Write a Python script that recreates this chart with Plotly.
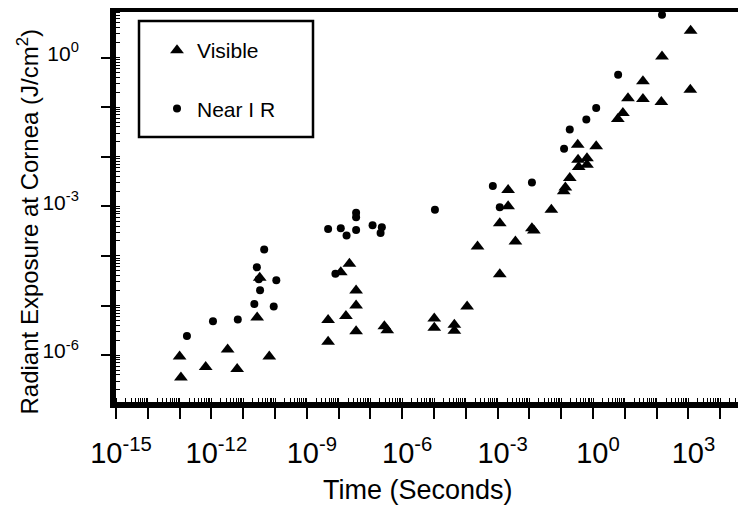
import plotly.graph_objects as go

# ---- data ----
# Visible: exposure time (s) and radiant exposure at cornea (J/cm^2)
visible_time = [1.0e-13, 1.10e-13, 6.61e-13, 3.24e-12, 6.46e-12, 2.75e-11, 6.61e-11, 3.31e-11,
                4.68e-9, 4.68e-9, 1.17e-8, 2.19e-8, 1.70e-8, 3.55e-8, 3.55e-8, 3.55e-8,
                2.75e-7, 3.39e-7, 1.02e-5, 1.02e-5, 4.37e-5, 4.37e-5, 1.10e-4, 2.34e-4,
                1.17e-3, 1.17e-3, 2.14e-3, 2.14e-3, 3.63e-3, 1.20e-2, 1.38e-2, 4.90e-2,
                0.120, 0.135, 0.186, 0.339, 0.355, 0.646, 0.646, 0.331, 1.26, 6.03, 8.71,
                12.6, 37.2, 37.2, 141, 148, 1175, 1148]
visible_exposure = [9.33e-7, 3.55e-7, 5.75e-7, 1.29e-6, 5.25e-7, 5.75e-6, 9.33e-7, 3.63e-5,
                    5.13e-6, 1.86e-6, 4.68e-5, 6.92e-5, 6.17e-6, 2.0e-5, 1.0e-5, 3.02e-6,
                    3.80e-6, 3.16e-6, 5.50e-6, 3.55e-6, 4.07e-6, 3.09e-6, 9.55e-6, 1.55e-4,
                    4.27e-5, 4.57e-4, 2.14e-3, 1.0e-3, 1.95e-4, 3.63e-4, 3.24e-4, 8.51e-4,
                    2.0e-3, 2.40e-3, 3.72e-3, 8.71e-3, 6.17e-3, 9.33e-3, 6.92e-3, 1.74e-2,
                    1.62e-2, 5.75e-2, 7.59e-2, 0.151, 0.331, 0.145, 0.126, 1.05, 3.47, 0.224]

# Near IR
nir_time = [1.70e-13, 1.12e-12, 6.76e-12, 2.24e-11, 2.69e-11, 3.09e-11, 3.39e-11, 4.57e-11,
            9.12e-11, 1.10e-10, 4.68e-9, 7.94e-9, 1.17e-8, 1.78e-8, 3.55e-8, 3.55e-8, 3.55e-8,
            1.17e-7, 2.29e-7, 2.09e-7, 1.07e-5, 7.08e-4, 1.17e-3, 1.20e-2, 0.123, 0.186,
            0.617, 1.26, 6.17, 148]
nir_exposure = [2.43e-6, 4.79e-6, 5.25e-6, 1.07e-5, 5.89e-5, 3.39e-5, 2.04e-5, 1.35e-4,
                9.55e-6, 3.24e-5, 3.47e-4, 4.37e-5, 3.63e-4, 2.57e-4, 7.41e-4, 6.03e-4, 3.31e-4,
                4.17e-4, 3.80e-4, 2.88e-4, 8.51e-4, 2.57e-3, 9.55e-4, 3.02e-3, 1.45e-2, 3.55e-2,
                5.62e-2, 9.55e-2, 0.447, 7.24]

# ---- tick labels ----
x_decades = list(range(-15, 5))
x_labelled = [-15, -12, -9, -6, -3, 0, 3]
y_decades = list(range(-7, 1))
y_labelled = [-6, -3, 0]

x_tickvals = [10.0 ** d for d in x_decades]
x_ticktext = [f"10<sup>{d}</sup>" if d in x_labelled else "" for d in x_decades]
y_tickvals = [10.0 ** d for d in y_decades]
y_ticktext = [f"10<sup>{d}</sup>" if d in y_labelled else "" for d in y_decades]

FONT = "Liberation Sans, Arial, Helvetica, sans-serif"

# the page body adds an 8px margin, so the figure is laid out 8px smaller
OFF = 8
W, H = 746 - OFF, 508 - OFF
L, R, T, B = 116 - OFF, 0, 12 - OFF, 106
PW, PH = W - L - R, H - T - B


def px_x(p):  # p: pixel x in the target picture
    return (p - OFF - L) / PW


def px_y(p):  # p: pixel y in the target picture
    return (H - B - (p - OFF)) / PH


fig = go.Figure()
fig.add_trace(go.Scatter(
    x=visible_time, y=visible_exposure, mode="markers", name="Visible",
    legendgroup="vis",
    marker=dict(symbol="triangle-up", size=12, color="black"),
))
fig.add_trace(go.Scatter(
    x=nir_time, y=nir_exposure, mode="markers", name="Near I R",
    legendgroup="nir",
    marker=dict(symbol="circle", size=8, color="black"),
))

fig.update_layout(
    template="none",
    width=W, height=H,
    margin=dict(l=L, r=R, t=T, b=B, pad=0, autoexpand=False),
    paper_bgcolor="white", plot_bgcolor="white",
    font=dict(family=FONT, color="black"),
    showlegend=True,
    legend=dict(
        xref="paper", yref="paper",
        x=px_x(157), y=px_y(30), xanchor="left", yanchor="top",
        bgcolor="rgba(0,0,0,0)", borderwidth=0,
        font=dict(family=FONT, size=21, color="black"),
        tracegroupgap=28, itemwidth=30,
    ),
    xaxis=dict(
        type="log", range=[-15.0, -15.0 + PW / 31.8], automargin=False,
        tickmode="array", tickvals=x_tickvals, ticktext=x_ticktext, tickangle=0,
        ticks="outside", ticklen=11, tickwidth=2, tickcolor="black",
        tickfont=dict(family=FONT, size=29, color="black"),
        ticklabelstandoff=9, ticklabelshift=5,
        minor=dict(ticks="inside", ticklen=4, tickwidth=1, tickcolor="black",
                   dtick="D1", showgrid=False),
        showline=True, linewidth=6, linecolor="black", mirror=True,
        showgrid=False, zeroline=False,
    ),
    yaxis=dict(
        type="log", range=[(57.5 - 402) / 49.6, (57.5 - 12) / 49.6], automargin=False,
        tickmode="array", tickvals=y_tickvals, ticktext=y_ticktext, tickangle=0,
        ticks="outside", ticklen=9, tickwidth=2, tickcolor="black",
        tickfont=dict(family=FONT, size=21, color="black"),
        ticklabelstandoff=18, ticklabelshift=-4,
        minor=dict(ticks="inside", ticklen=4, tickwidth=1, tickcolor="black",
                   dtick="D1", showgrid=False),
        showline=True, linewidth=6, linecolor="black", mirror=False,
        showgrid=False, zeroline=False,
    ),
    shapes=[dict(
        type="rect", xref="paper", yref="paper",
        x0=px_x(139), x1=px_x(313), y0=px_y(137), y1=px_y(21),
        line=dict(color="black", width=2.5), fillcolor="rgba(0,0,0,0)", layer="above",
    )],
    annotations=[
        dict(text="Time (Seconds)", xref="paper", yref="paper",
             x=px_x(417.5), y=px_y(490), xanchor="center", yanchor="middle",
             showarrow=False, font=dict(family=FONT, size=27, color="black")),
        dict(text="Radiant Exposure at Cornea (J/cm<sup>2</sup>)", xref="paper", yref="paper",
             x=px_x(27), y=px_y(221.5), xanchor="center", yanchor="middle", textangle=-90,
             showarrow=False, font=dict(family=FONT, size=24, color="black")),
    ],
)

fig.write_html("out.html")
